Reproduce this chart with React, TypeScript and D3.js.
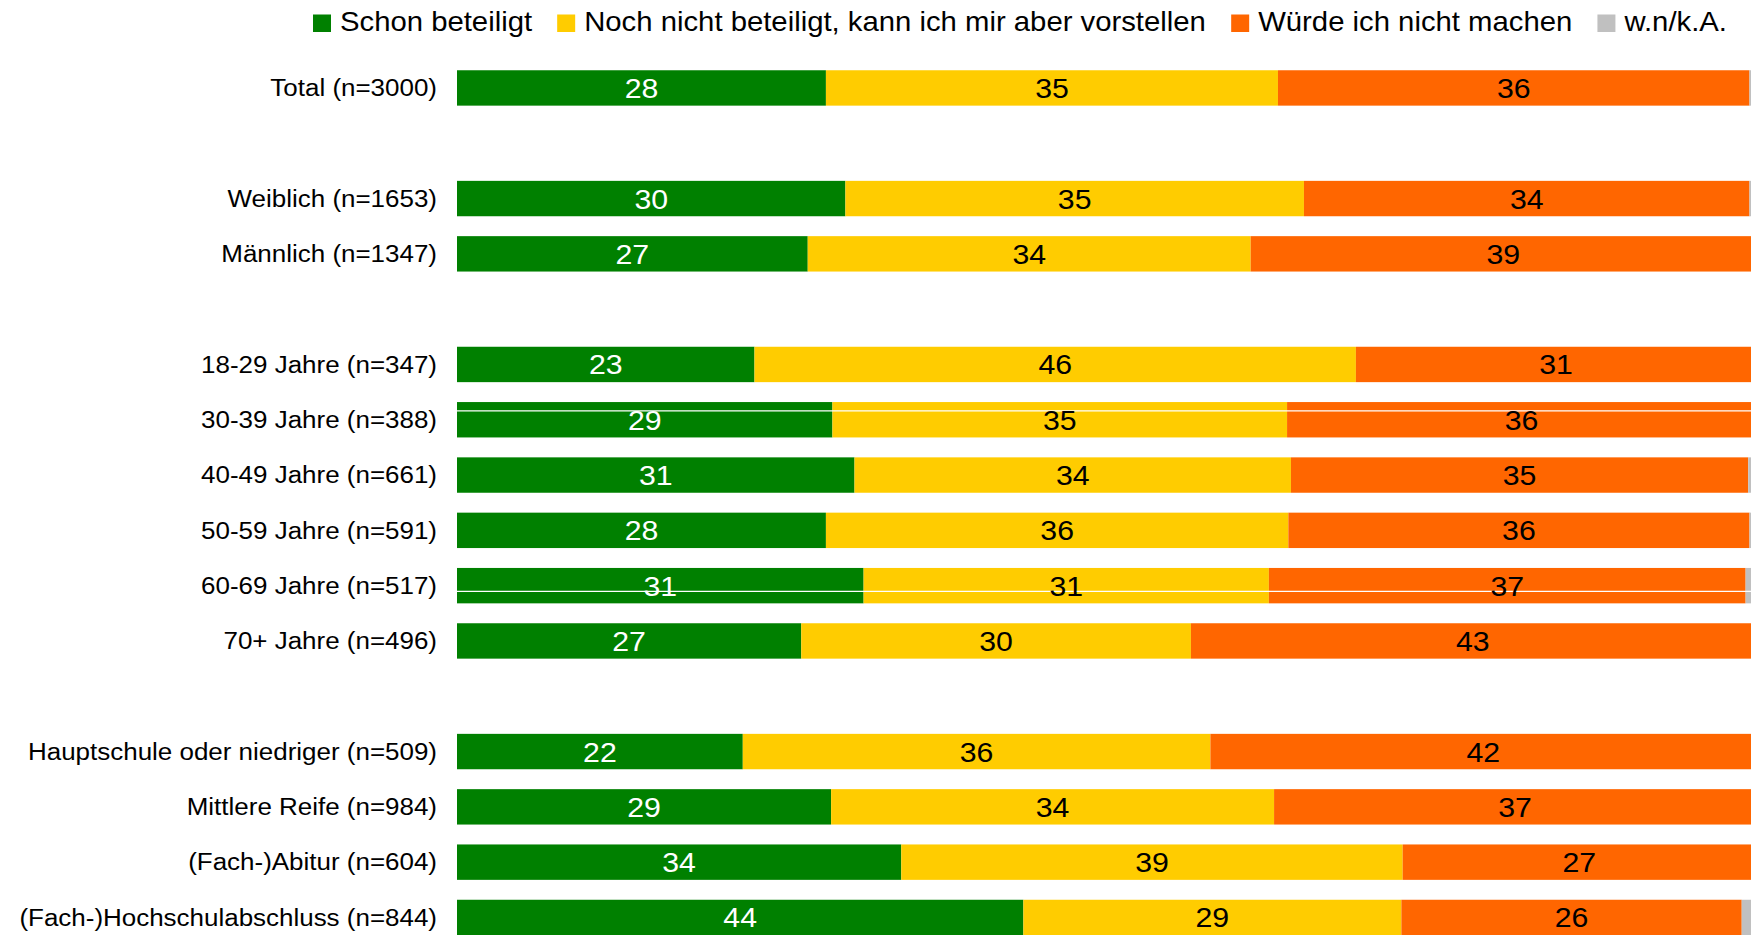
import React, { useMemo } from "react";
import * as d3 from "d3";

// ---------- DATA ----------
const categories: string[] = [
  "Total (n=3000)",
  "",
  "Weiblich (n=1653)",
  "Männlich (n=1347)",
  "",
  "18-29 Jahre (n=347)",
  "30-39 Jahre (n=388)",
  "40-49 Jahre (n=661)",
  "50-59 Jahre (n=591)",
  "60-69 Jahre (n=517)",
  "70+ Jahre (n=496)",
  "",
  "Hauptschule oder niedriger (n=509)",
  "Mittlere Reife (n=984)",
  "(Fach-)Abitur (n=604)",
  "(Fach-)Hochschulabschluss (n=844)",
];

const seriesNames: string[] = [
  "Schon beteiligt",
  "Noch nicht beteiligt, kann ich mir aber vorstellen",
  "Würde ich nicht machen",
  "w.n/k.A.",
];

const schonBeteiligt: (number | null)[] = [28.4, null, 29.9, 27.0, null, 22.9, 28.9, 30.6, 28.4, 31.3, 26.5, null, 22.0, 28.8, 34.2, 43.6];
const nochNichtBeteiligt: (number | null)[] = [34.8, null, 35.3, 34.1, null, 46.3, 35.0, 33.6, 35.6, 31.2, 30.0, null, 36.0, 34.1, 38.6, 29.1];
const wuerdeNicht: (number | null)[] = [36.3, null, 34.3, 38.9, null, 30.8, 36.1, 35.2, 35.5, 36.7, 43.4, null, 42.0, 37.1, 27.2, 26.2];
const wnka: (number | null)[] = [0.5, null, 0.5, 0.0, null, 0.0, 0.0, 0.6, 0.5, 0.8, 0.1, null, 0.0, 0.0, 0.0, 1.1];

// ---------- STYLE ----------
const seriesColors = ["#008000", "#FFCC00", "#FF6600", "#C0C0C0"];
const valueLabelColors: (string | null)[] = ["#FFFFFF", "#000000", "#000000", null];
const FONT = "'Liberation Sans', Arial, Helvetica, sans-serif";

const W = 1751;
const H = 935;

function measure(text: string, size: number): number {
  if (typeof document === "undefined") return text.length * size * 0.5;
  const c = document.createElement("canvas");
  const ctx = c.getContext("2d");
  if (!ctx) return text.length * size * 0.5;
  ctx.font = `${size}px ${FONT}`;
  return ctx.measureText(text).width;
}

export default function App() {
  const keys = ["s0", "s1", "s2", "s3"];
  const table = useMemo(
    () =>
      categories.map((c, i) => ({
        idx: i,
        label: c,
        gap: schonBeteiligt[i] === null,
        s0: schonBeteiligt[i] ?? 0,
        s1: nochNichtBeteiligt[i] ?? 0,
        s2: wuerdeNicht[i] ?? 0,
        s3: wnka[i] ?? 0,
      })),
    []
  );

  const stacked = d3.stack<any>().keys(keys)(table);

  const x = d3.scaleLinear().domain([0, 100]).range([457, 1756]);
  const step = 55.3;
  const r0 = 60.3;
  const y = d3
    .scaleBand<number>()
    .domain(d3.range(categories.length))
    .range([r0, r0 + categories.length * step])
    .paddingInner(0.36)
    .paddingOuter(0.18);
  const bw = y.bandwidth();

  // legend layout
  const legendSize = 27;
  const legendSx = 1.085;
  const legendItems = useMemo(() => {
    let cx = 313;
    return seriesNames.map((name, i) => {
      const w = measure(name, legendSize) * legendSx;
      const item = { name, color: seriesColors[i], sq: cx, tx: cx + 27 };
      cx = cx + 27 + w + 25;
      return item;
    });
  }, []);

  const labelSize = 23.5;
  const labelSx = 1.105;
  const valueSize = 28;
  const valueSx = 1.08;

  // thin white rendering lines visible in the reference
  const artifactLines = [
    { row: 6, frac: 0.25 },
    { row: 9, frac: 0.66 },
  ];

  return (
    <svg
      width={W}
      height={H}
      style={{ position: "absolute", left: 0, top: 0, display: "block", background: "#fff" }}
      fontFamily={FONT}
    >
      <rect x={0} y={0} width={W} height={H} fill="#fff" />
      {/* Legend */}
      <g>
        {legendItems.map((it) => (
          <g key={it.name}>
            <rect x={it.sq} y={14.5} width={18} height={17.5} fill={it.color} />
            <text
              transform={`translate(${it.tx},31) scale(${legendSx},1)`}
              fontSize={legendSize}
              fill="#000"
            >
              {it.name}
            </text>
          </g>
        ))}
      </g>

      {/* Category labels */}
      {table
        .filter((d) => !d.gap)
        .map((d) => (
          <text
            key={"l" + d.idx}
            transform={`translate(437,${(y(d.idx) as number) + bw / 2 + 8.3}) scale(${labelSx},1)`}
            textAnchor="end"
            fontSize={labelSize}
            fill="#000"
          >
            {d.label}
          </text>
        ))}

      {/* Bars */}
      {stacked.map((layer, si) => (
        <g key={layer.key} fill={seriesColors[si]}>
          {layer
            .filter((seg: any) => !seg.data.gap && seg[1] - seg[0] > 0)
            .map((seg: any) => (
              <rect
                key={seg.data.idx}
                x={x(seg[0])}
                y={y(seg.data.idx)}
                width={x(seg[1]) - x(seg[0])}
                height={bw}
              />
            ))}
        </g>
      ))}

      {/* Artifact lines */}
      {artifactLines.map((a) => (
        <line
          key={"a" + a.row}
          x1={x(0)}
          x2={W}
          y1={(y(a.row) as number) + bw * a.frac}
          y2={(y(a.row) as number) + bw * a.frac}
          stroke="#fff"
          strokeWidth={1.2}
        />
      ))}

      {/* Value labels */}
      {stacked.map((layer, si) =>
        valueLabelColors[si] === null
          ? null
          : layer
              .filter((seg: any) => !seg.data.gap)
              .map((seg: any) => {
                const v = seg[1] - seg[0];
                const cx = x((seg[0] + seg[1]) / 2);
                const cy = (y(seg.data.idx) as number) + bw / 2 + 10;
                return (
                  <text
                    key={layer.key + "-" + seg.data.idx}
                    transform={`translate(${cx},${cy}) scale(${valueSx},1)`}
                    textAnchor="middle"
                    fontSize={valueSize}
                    fill={valueLabelColors[si] as string}
                  >
                    {Math.round(v)}
                  </text>
                );
              })
      )}
    </svg>
  );
}
